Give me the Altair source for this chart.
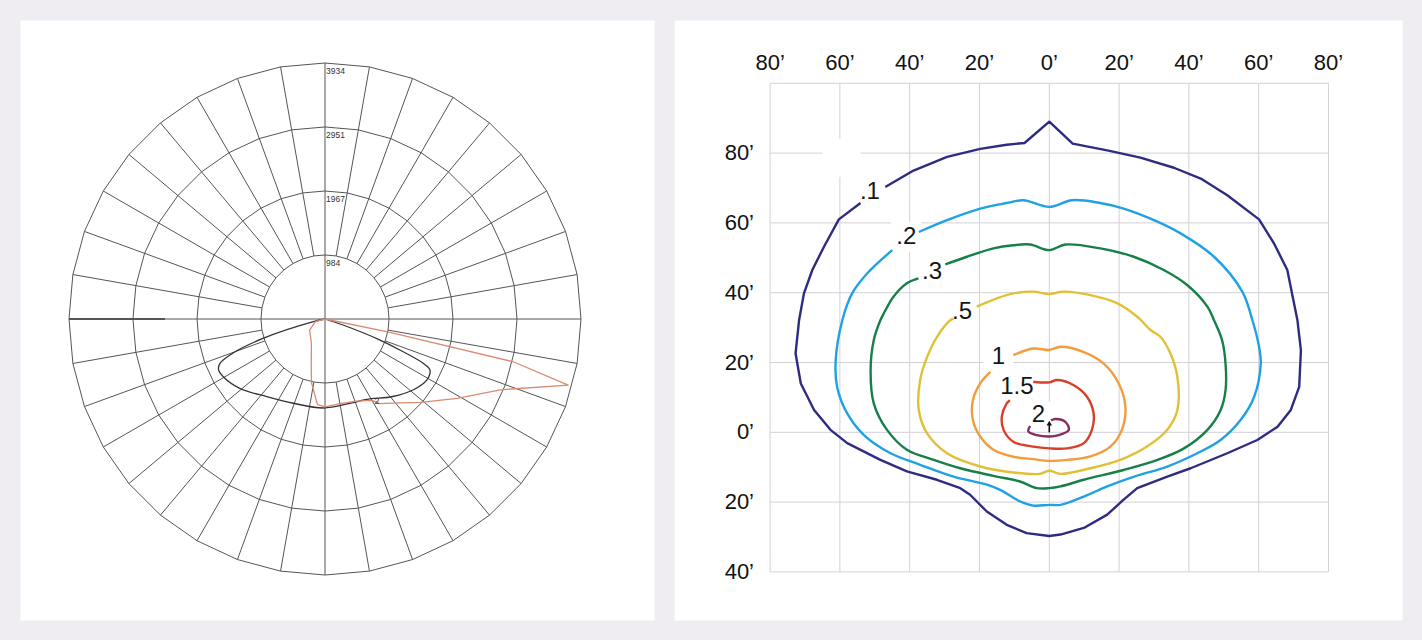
import altair as alt
import pandas as pd

# ---------------- left panel: polar candela distribution ----------------
ring_values = [984, 1967, 2951, 3934]
spoke_step_deg = 10
heavy_axis_cd = 2459

# angle from nadir (deg, + to the right), candela
curve_black_angle = [-90, -77, -72.6, -69.7, -67.1, -64.4, -60.4, -50.9, -36.9, -20.6, -1.1,
                     16.5, 27.4, 41.2, 51.1, 59, 64.1, 65.7, 67.5, 69.1, 71.6, 90]
curve_black_cd = [0, 184, 999, 1506, 1752, 1813, 1798, 1690, 1491, 1383, 1368,
                  1352, 1391, 1583, 1737, 1823, 1793, 1660, 1245, 907, 292, 0]
curve_red_angle = [-90, -75, -54, -29, -16, -12, -5, 0, 10, 21, 30, 33, 42, 49, 59, 68,
                   74.8, 77.2, 78.4, 90]
curve_red_cd = [0, 154, 292, 430, 768, 999, 1322, 1352, 1322, 1352, 1444, 1552, 1736,
                1952, 2367, 2904, 3873, 2966, 968, 0]
curve_colors = ["#333333", "#d98a72"]
curve_note_text = ["2"]
curve_note_angle = [32.4]
curve_note_cd = [1491]

# ---------------- right panel: isofootcandle plot (feet) ----------------
grid_x_ft = [-80, -60, -40, -20, 0, 20, 40, 60, 80]
grid_y_ft = [-40, -20, 0, 20, 40, 60, 80, 100]
top_tick_values = [-80, -60, -40, -20, 0, 20, 40, 60, 80]
top_tick_labels = ["80’", "60’", "40’", "20’", "0’", "20’", "40’", "60’", "80’"]
left_tick_values = [80, 60, 40, 20, 0, -20, -40]
left_tick_labels = ["80’", "60’", "40’", "20’", "0’", "20’", "40’"]

iso_levels = [".1", ".2", ".3", ".5", "1", "1.5", "2"]
iso_colors = ["#2e2c80", "#1ea2e4", "#178049", "#e0c136", "#f39c3c", "#d9402a", "#8a2b5f"]

iso_01_x = [-47.0, -38.9, -29.3, -19.8, -12.2, -7.1, 0, 6.7, 16.6, 26.1, 35.7, 43.4, 51.0,
            60.1, 64.4, 68.2, 71.1, 72.1, 71.6, 69.2, 65.4, 59.6, 51.0, 40.5, 33.8, 25.2,
            21.3, 16.6, 9.9, 3.2, 0, -6.5, -12.2, -17.9, -22.7, -25.5, -32.2, -40.8, -48.4,
            -57.9, -62.7, -67.4, -71.2, -72.7, -71.7, -70.3, -67.9, -64.6, -60.3, -54.1]
iso_01_y = [70.3, 75.0, 78.9, 81.2, 82.4, 82.9, 89.0, 82.7, 80.8, 78.7, 75.8, 72.7, 67.9,
            61.0, 54.1, 46.5, 32.1, 23.5, 13.0, 6.4, 1.6, -2.2, -6.0, -10.3, -12.7, -16.0,
            -19.3, -23.6, -27.4, -29.3, -29.7, -28.9, -26.5, -22.7, -17.9, -16.0, -13.6, -11.2, -7.9,
            -3.1, 0.7, 6.4, 14.0, 22.6, 32.1, 39.8, 46.5, 53.1, 61.0, 65.7]
iso_02_x = [-37.4, -29.3, -19.8, -12.2, -7.4, 0, 6.5, 14.6, 21.3, 29.0, 37.6, 47.2, 55.3,
            58.2, 60.1, 60.6, 58.7, 54.8, 49.1, 42.4, 33.8, 24.3, 16.6, 9.9, 3.2, 0, -4.6,
            -8.4, -14.1, -17.9, -27.4, -37.0, -45.5, -53.1, -57.9, -60.8, -61.2, -59.3, -56.5,
            -52.2, -45.0]
iso_02_y = [57.4, 60.8, 64.1, 65.7, 66.5, 64.6, 66.5, 65.7, 64.1, 61.2, 57.0, 50.3, 40.3,
            32.1, 24.5, 19.7, 10.2, 3.5, -2.2, -6.0, -9.8, -12.7, -15.5, -18.4, -20.8, -20.8, -21.0,
            -19.8, -16.5, -15.0, -12.7, -9.3, -6.0, -0.8, 5.4, 13.0, 20.7, 32.1, 39.8,
            45.5, 52.2]
iso_03_x = [-29.8, -23.6, -16.0, -10.3, -5.5, 0, 4.6, 14.6, 24.2, 32.8, 39.5, 45.3, 47.2,
            49.5, 50.5, 50.5, 49.1, 45.3, 38.6, 31.0, 21.3, 9.9, 3.2, 0, -3.6, -8.4, -16.0,
            -25.5, -33.1, -40.8, -46.5, -50.3, -51.2, -50.3, -48.4, -47.4, -44.6, -40.8, -37.5]
iso_03_y = [48.1, 50.3, 52.7, 53.6, 53.8, 52.2, 53.8, 52.7, 50.3, 46.5, 42.2, 36.0, 32.1,
            26.4, 19.7, 12.1, 6.4, 0.7, -4.6, -7.9, -10.8, -13.6, -15.5, -16.0, -16.0, -14.1, -12.5,
            -10.3, -7.9, -5.0, 0.7, 8.3, 17.8, 26.4, 32.1, 34.1, 38.9, 42.7, 44.1]
iso_05_x = [-20.8, -15.0, -10.3, -4.6, 0, 4.1, 11.8, 19.4, 25.2, 29.0, 31.9, 34.7, 36.7,
            36.7, 33.8, 28.0, 20.4, 11.8, 3.2, 0, -2.7, -10.3, -19.8, -29.3, -35.0, -37.4,
            -37.0, -35.0, -32.2, -28.4, -27.4]
iso_05_y = [36.0, 38.4, 39.8, 40.3, 39.6, 40.3, 39.3, 37.0, 33.1, 29.3, 27.3, 22.6, 15.9,
            6.4, 0.7, -4.1, -7.9, -10.3, -11.9, -11.0, -11.9, -11.5, -9.8, -6.0, -0.3, 6.4,
            15.0, 21.6, 27.3, 32.1, 32.6]
iso_1_x = [-10.3, -4.6, 0, 3.2, 9.9, 15.6, 19.9, 21.8, 20.8, 17.5, 11.8, 5.1, 0, -4.6,
           -10.3, -16.0, -19.8, -21.9, -21.9, -19.8, -16.9]
iso_1_y = [22.1, 24.0, 23.6, 24.5, 23.0, 19.7, 14.0, 7.3, 0.7, -4.1, -6.9, -7.9, -8.2, -7.7,
           -7.0, -5.0, -1.2, 3.5, 9.2, 14.0, 17.3]
iso_15_x = [-4.6, 0, 2.2, 7.0, 10.8, 12.7, 12.2, 9.9, 5.1, 0, -4.6, -10.3, -13.1, -13.6,
            -12.2, -11.3]
iso_15_y = [14.5, 14.3, 15.0, 13.5, 10.2, 5.4, 0.7, -3.1, -4.6, -4.6, -4.1, -2.7, 0.7, 4.5,
            8.3, 9.2]
iso_2_x = [-5.5, -6.0, -3.6, 0, 2.7, 5.6, 4.6, 1.7, 0.5]
iso_2_y = [1.8, 0.2, -0.8, -1.2, -0.8, 0.7, 3.0, 3.8, 3.4]

label_text = [".1", ".2", ".3", ".5", "1", "1.5", "2", ""]
label_x = [-51.4, -41.0, -33.6, -25.0, -14.6, -9.3, -3.1, -59.5]
label_y = [68.9, 56.0, 46.0, 34.6, 21.6, 13.0, 5.0, 78.7]
label_box_px = [30, 30, 30, 30, 30, 40, 26, 38]

center_mark_x = [0]
center_mark_y = [0.0]
center_mark_tip = [2.6]

# ---------------- layout constants ----------------
LEFT_W, LEFT_H = 634, 600
RIGHT_W, RIGHT_H = 728, 600
FONT = "Liberation Sans"

cd_per_px = ring_values[-1] / 256.0
lcx, lcy = 305, 299
LX = alt.Scale(domain=[-lcx * cd_per_px, (LEFT_W - lcx) * cd_per_px], nice=False, zero=False)
LY = alt.Scale(domain=[-(LEFT_H - lcy) * cd_per_px, lcy * cd_per_px], nice=False, zero=False)

px_per_ft = 3.49
rcx, rcy = 375.3, 412.3
RX = alt.Scale(domain=[-rcx / px_per_ft, (RIGHT_W - rcx) / px_per_ft], nice=False, zero=False)
RY = alt.Scale(domain=[-(RIGHT_H - rcy) / px_per_ft, rcy / px_per_ft], nice=False, zero=False)

SIN = "sin(datum.a * PI / 180)"
COS = "cos(datum.a * PI / 180)"

# ---------------- left panel frames ----------------
n_steps = 360 // spoke_step_deg
rings_df = pd.DataFrame([{"ring": r, "i": k, "a": k * spoke_step_deg, "cd": r}
                         for r in ring_values for k in range(n_steps + 1)])
spoke_rows = [{"a": a, "r0": ring_values[0], "r1": ring_values[-1], "w": 1.0}
              for a in range(spoke_step_deg, 360, spoke_step_deg) if a % 90]
spoke_rows += [{"a": 0, "r0": -ring_values[-1], "r1": ring_values[-1], "w": 1.0},
               {"a": 90, "r0": -ring_values[-1], "r1": ring_values[-1], "w": 1.0},
               {"a": 270, "r0": heavy_axis_cd, "r1": ring_values[-1], "w": 2.0}]
spokes_df = pd.DataFrame(spoke_rows)
black_df = pd.DataFrame({"col": curve_colors[0], "i": range(len(curve_black_angle)),
                         "a": curve_black_angle, "cd": curve_black_cd})
red_df = pd.DataFrame({"col": curve_colors[1], "i": range(len(curve_red_angle)),
                       "a": curve_red_angle, "cd": curve_red_cd})
ring_lab_df = pd.DataFrame({"a": 180, "cd": ring_values, "t": [str(v) for v in ring_values]})
note_df = pd.DataFrame({"a": curve_note_angle, "cd": curve_note_cd, "t": curve_note_text})


def polar(ch):
    return ch.transform_calculate(px=f"datum.cd * {SIN}", py=f"-datum.cd * {COS}")


lx = lambda f: alt.X(f, type="quantitative", scale=LX, axis=None)
ly = lambda f: alt.Y(f, type="quantitative", scale=LY, axis=None)

rings = polar(alt.Chart(rings_df)).mark_line(color="#555555", strokeWidth=1).encode(
    x=lx("px"), y=ly("py"), detail="ring:N", order="i:Q")
spokes = alt.Chart(spokes_df).transform_calculate(
    px=f"datum.r0 * {SIN}", py=f"-datum.r0 * {COS}",
    px2=f"datum.r1 * {SIN}", py2=f"-datum.r1 * {COS}",
).mark_rule(color="#555555").encode(
    x=lx("px"), y=ly("py"), x2=alt.X2("px2:Q"), y2=alt.Y2("py2:Q"),
    strokeWidth=alt.StrokeWidth("w:Q", scale=None, legend=None))
curve_enc = dict(x=lx("px"), y=ly("py"), order="i:Q",
                 stroke=alt.Stroke("col:N", scale=None, legend=None))
curve_black = polar(alt.Chart(black_df)).mark_line(
    strokeWidth=1.3, strokeJoin="round", interpolate="catmull-rom").encode(**curve_enc)
curve_red = polar(alt.Chart(red_df)).mark_line(
    strokeWidth=1.3, strokeJoin="round").encode(**curve_enc)
ring_labels = polar(alt.Chart(ring_lab_df)).mark_text(
    align="left", baseline="top", dx=1, dy=4, fontSize=8.5, font=FONT, fill="#333333").encode(
    x=lx("px"), y=ly("py"), text="t:N")
notes = polar(alt.Chart(note_df)).mark_text(
    align="center", baseline="middle", fontSize=9, font=FONT, fill="#333333").encode(
    x=lx("px"), y=ly("py"), text="t:N")

left = alt.layer(rings, spokes, curve_black, curve_red, ring_labels, notes).properties(
    width=LEFT_W, height=LEFT_H)

# ---------------- right panel frames ----------------
rx = lambda f: alt.X(f, type="quantitative", scale=RX, axis=None)
ry = lambda f: alt.Y(f, type="quantitative", scale=RY, axis=None)

vgrid_df = pd.DataFrame({"x": grid_x_ft, "y0": min(grid_y_ft), "y1": max(grid_y_ft)})
hgrid_df = pd.DataFrame({"y": grid_y_ft, "x0": min(grid_x_ft), "x1": max(grid_x_ft)})
GRID_C = "#d3d0d8"
vgrid = alt.Chart(vgrid_df).mark_rule(color=GRID_C, strokeWidth=1).encode(
    x=rx("x"), y=ry("y0"), y2=alt.Y2("y1:Q"))
hgrid = alt.Chart(hgrid_df).mark_rule(color=GRID_C, strokeWidth=1).encode(
    y=ry("y"), x=rx("x0"), x2=alt.X2("x1:Q"))

top_df = pd.DataFrame({"v": top_tick_values, "t": top_tick_labels})
left_df = pd.DataFrame({"v": left_tick_values, "t": left_tick_labels})
top_lab = alt.Chart(top_df).mark_text(fontSize=22, font=FONT, fill="#111111",
                                      align="center", baseline="middle").encode(
    x=rx("v"), y=alt.value(43), text="t:N")
left_lab = alt.Chart(left_df).mark_text(fontSize=22, font=FONT, fill="#111111",
                                        align="right", baseline="middle").encode(
    y=ry("v"), x=alt.value(80), text="t:N")

iso_x = [iso_01_x, iso_02_x, iso_03_x, iso_05_x, iso_1_x, iso_15_x, iso_2_x]
iso_y = [iso_01_y, iso_02_y, iso_03_y, iso_05_y, iso_1_y, iso_15_y, iso_2_y]
iso_df = pd.concat([pd.DataFrame({"lev": lev, "col": c, "i": range(len(xs)), "x": xs, "y": ys})
                    for lev, c, xs, ys in zip(iso_levels, iso_colors, iso_x, iso_y)])
labels_df = pd.DataFrame({"t": label_text, "x": label_x, "y": label_y,
                          "box": [b * b for b in label_box_px]})

boxes = alt.Chart(labels_df).mark_square(fill="white", strokeOpacity=0, opacity=1, filled=True).encode(
    x=rx("x"), y=ry("y"), size=alt.Size("box:Q", scale=None, legend=None))
iso_enc = dict(x=rx("x"), y=ry("y"), detail="lev:N", order="i:Q",
               stroke=alt.Stroke("col:N", scale=None, legend=None))
iso_outer = alt.Chart(iso_df).transform_filter(f"datum.lev == '{iso_levels[0]}'").mark_line(
    strokeWidth=2.4, strokeJoin="round").encode(**iso_enc)
iso_inner = alt.Chart(iso_df).transform_filter(f"datum.lev != '{iso_levels[0]}'").mark_line(
    strokeWidth=2.4, strokeJoin="round", interpolate="catmull-rom").encode(**iso_enc)
iso_labels = alt.Chart(labels_df).mark_text(fontSize=24, font=FONT, fill="#151515",
                                            align="center", baseline="middle").encode(
    x=rx("x"), y=ry("y"), text="t:N")
mark_df = pd.DataFrame({"x": center_mark_x, "y": center_mark_y, "tip": center_mark_tip})
stem = alt.Chart(mark_df).mark_rule(color="#111111", strokeWidth=1.6).encode(
    x=rx("x"), y=ry("y"), y2=alt.Y2("tip:Q"))
head = alt.Chart(mark_df).mark_point(shape="triangle-up", filled=True, fill="#111111",
                                     size=30, opacity=1).encode(x=rx("x"), y=ry("tip"))

right = alt.layer(vgrid, hgrid, boxes, iso_outer, iso_inner, iso_labels, stem, head,
                  top_lab, left_lab).properties(width=RIGHT_W, height=RIGHT_H)

chart = alt.hconcat(left, right, spacing=20).properties(
    padding={"left": 20, "right": 20, "top": 20, "bottom": 20},
    background="#efedf1",
).configure_view(fill="white", strokeOpacity=0)

chart.save("out.html", embed_options={"renderer": "svg", "actions": False})
